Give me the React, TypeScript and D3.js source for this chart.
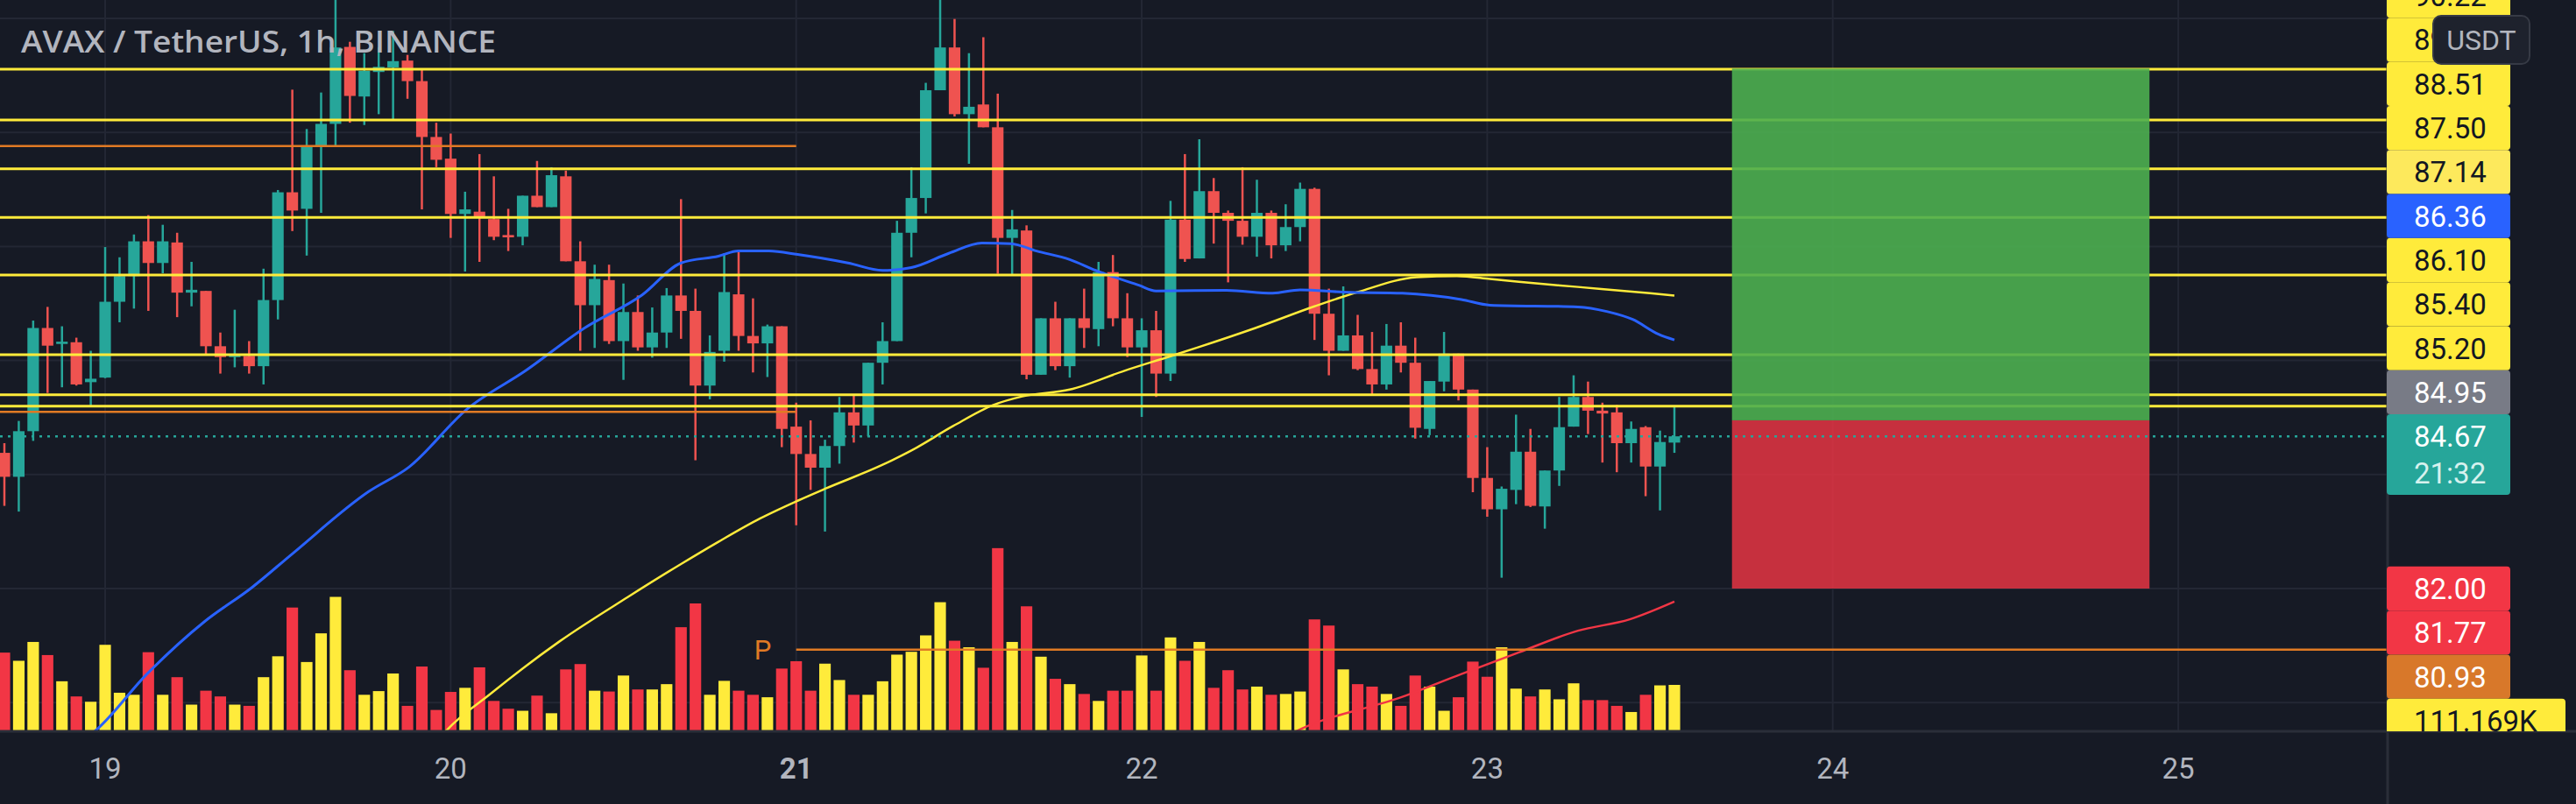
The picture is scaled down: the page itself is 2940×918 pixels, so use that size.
import * as d3 from "d3";

// hourly candles, AVAX / USDT
const opens = [84.38, 83.96, 84.76, 86.57, 86.29, 86.32, 85.62, 85.7, 87.03, 87.48, 88.09, 87.71, 88.07, 87.19, 87.22, 86.25, 86.06, 86.08, 85.9, 87.06, 88.95, 88.66, 89.77, 90.15, 91.5, 90.63, 91.06, 91.14, 91.26, 90.9, 89.92, 89.54, 88.57, 88.61, 88.48, 88.2, 88.17, 88.89, 88.69, 89.23, 87.74, 86.97, 87.41, 86.34, 86.85, 86.23, 86.49, 87.14, 86.87, 85.56, 86.17, 87.16, 86.43, 86.3, 86.6, 84.84, 84.36, 84.12, 84.5, 85.09, 84.86, 85.96, 86.34, 88.24, 88.85, 90.74, 91.49, 90.32, 90.49, 90.09, 88.15, 88.28, 85.75, 86.74, 85.9, 86.74, 86.55, 87.55, 86.74, 86.23, 86.53, 85.77, 88.47, 87.79, 88.97, 88.59, 88.45, 88.17, 88.59, 88.02, 88.34, 89.01, 86.82, 86.17, 86.44, 85.85, 85.58, 86.26, 85.96, 84.8, 85.63, 86.12, 85.49, 83.94, 83.39, 83.73, 84.4, 83.44, 84.07, 84.84, 85.36, 85.12, 85.09, 84.55, 84.83, 84.14, 84.56];
const highs = [84.55, 84.94, 86.7, 86.94, 86.6, 86.4, 86.17, 87.99, 87.81, 88.21, 88.55, 88.38, 88.24, 87.73, 87.22, 86.49, 86.89, 86.34, 87.61, 88.99, 90.75, 90.06, 90.7, 92.4, 91.59, 91.39, 91.49, 91.78, 91.36, 91.1, 90.17, 89.98, 88.96, 89.62, 89.23, 88.66, 88.89, 89.5, 89.39, 89.33, 88.09, 87.68, 87.68, 87.35, 87.14, 86.93, 87.27, 88.83, 87.26, 86.44, 87.88, 87.92, 87.09, 86.63, 86.6, 85.26, 84.95, 84.61, 85.36, 85.41, 85.96, 86.67, 88.45, 89.39, 90.87, 92.4, 91.99, 91.39, 91.67, 90.68, 88.64, 88.37, 86.74, 87.03, 86.74, 87.26, 87.73, 87.85, 87.18, 86.74, 86.87, 88.8, 89.62, 89.88, 89.2, 88.63, 89.39, 89.17, 88.63, 88.74, 89.12, 89.03, 87.26, 87.3, 86.8, 86.5, 86.64, 86.67, 86.4, 85.64, 86.5, 86.12, 85.49, 84.48, 83.79, 85.05, 84.8, 84.07, 85.36, 85.74, 85.63, 85.26, 85.22, 84.93, 84.85, 84.77, 85.2];
const lows = [83.45, 83.35, 84.59, 85.43, 85.53, 85.56, 85.2, 85.69, 86.67, 86.91, 86.87, 87.53, 86.76, 86.95, 86.09, 85.77, 85.88, 85.77, 85.58, 86.72, 88.27, 87.84, 88.59, 89.77, 90.17, 90.13, 90.32, 90.21, 90.59, 88.65, 89.39, 88.15, 87.56, 87.73, 88.11, 87.92, 88.02, 88.69, 88.69, 87.74, 86.17, 86.22, 86.29, 85.66, 86.17, 86.05, 86.22, 86.38, 84.25, 85.32, 85.98, 86.17, 85.79, 85.71, 84.48, 83.11, 83.73, 83.0, 84.19, 84.56, 84.67, 85.58, 86.34, 87.81, 88.58, 90.74, 90.28, 89.45, 90.09, 87.52, 87.5, 85.67, 85.75, 85.83, 85.7, 86.22, 86.25, 86.6, 86.06, 85.01, 85.36, 85.64, 87.73, 87.79, 88.05, 87.37, 88.03, 87.82, 87.79, 87.92, 88.09, 86.36, 85.74, 86.17, 85.83, 85.41, 85.49, 85.79, 84.63, 84.69, 85.46, 85.3, 83.69, 83.26, 82.19, 83.48, 83.43, 83.05, 83.8, 84.84, 84.71, 84.21, 84.04, 84.21, 83.62, 83.37, 84.38];
const closes = [83.96, 84.76, 86.57, 86.26, 86.33, 85.58, 85.68, 87.03, 87.48, 88.09, 87.71, 88.09, 87.19, 87.24, 86.25, 86.06, 86.09, 85.9, 87.06, 88.95, 88.63, 89.77, 90.15, 91.49, 90.64, 91.08, 91.15, 91.25, 90.9, 89.92, 89.52, 88.57, 88.65, 88.51, 88.17, 88.16, 88.89, 88.69, 89.25, 87.74, 86.97, 87.43, 86.34, 86.85, 86.23, 86.49, 87.14, 86.87, 85.56, 86.15, 87.2, 86.43, 86.3, 86.6, 84.8, 84.36, 84.12, 84.5, 85.09, 84.86, 85.96, 86.34, 88.24, 88.85, 90.74, 91.49, 90.32, 90.45, 90.09, 88.15, 88.3, 85.75, 86.74, 85.9, 86.74, 86.57, 87.55, 86.74, 86.23, 86.53, 85.77, 88.47, 87.78, 88.97, 88.59, 88.45, 88.17, 88.59, 88.02, 88.34, 89.01, 86.82, 86.17, 86.44, 85.85, 85.58, 86.26, 85.96, 84.82, 85.64, 86.12, 85.49, 83.94, 83.39, 83.75, 84.4, 83.45, 84.07, 84.83, 85.36, 85.12, 85.07, 84.55, 84.8, 84.14, 84.57, 84.67];
// volume in thousands
const volumes = [190, 170, 216, 184, 120, 83, 70, 209, 92, 87, 191, 87, 130, 63, 97, 83, 63, 60, 130, 181, 300, 167, 237, 326, 147, 87, 96, 139, 60, 156, 50, 94, 104, 154, 72, 53, 48, 85, 42, 149, 162, 97, 95, 134, 100, 100, 113, 252, 310, 87, 121, 97, 87, 81, 151, 169, 97, 163, 123, 87, 87, 120, 185, 192, 232, 313, 219, 203, 153, 445, 216, 303, 180, 126, 113, 89, 72, 97, 97, 183, 97, 227, 170, 216, 104, 147, 100, 107, 87, 89, 95, 271, 256, 149, 113, 107, 89, 60, 134, 107, 48, 81, 168, 131, 203, 102, 83, 100, 76, 115, 74, 74, 60, 45, 87, 110, 111.169];

// moving averages: [candle index, price]
const blueMa: [number, number][] = [[5.2, 79.3], [6.2, 79.48], [9.9, 80.5], [13.9, 81.42], [17.2, 82.02], [20, 82.61], [25.3, 83.7], [28.1, 84.13], [32.1, 85.14], [36.2, 85.82], [40.3, 86.57], [44.3, 87.15], [47, 87.71], [49.6, 87.83], [51, 87.92], [53.1, 87.92], [55.1, 87.86], [58.6, 87.71], [61, 87.58], [63, 87.63], [65.6, 87.88], [67.9, 88.06], [69.9, 88.05], [71.7, 87.92], [74, 87.77], [75.8, 87.58], [78.8, 87.32], [80, 87.22], [84.9, 87.23], [88.1, 87.18], [90, 87.24], [93, 87.2], [97.1, 87.18], [101.2, 87.07], [103.2, 86.97], [109.3, 86.94], [111.3, 86.86], [113.1, 86.72], [114.9, 86.46], [116, 86.36]];
const yellowMa: [number, number][] = [[30, 79.3], [30.6, 79.48], [33.8, 80.16], [38.6, 81.08], [43.3, 81.85], [47, 82.43], [49.6, 82.82], [52.5, 83.23], [55.1, 83.54], [57.1, 83.76], [61, 84.17], [63, 84.42], [65.9, 84.85], [68.7, 85.22], [70.7, 85.37], [74, 85.49], [77.8, 85.82], [80.8, 86.06], [82.9, 86.23], [86.9, 86.57], [91, 86.95], [94, 87.2], [98.1, 87.46], [100.9, 87.48], [103.2, 87.43], [105.2, 87.38], [109.3, 87.29], [114.3, 87.18], [116, 87.14]];
const redMa: [number, number][] = [[89, 79.4], [89.6, 79.48], [97.1, 80.1], [101.2, 80.5], [105.2, 80.88], [109.3, 81.26], [112.9, 81.46], [116, 81.77]];

const levelLines = [91.11, 90.22, 89.36, 88.51, 87.5, 86.1, 85.4, 85.2];
const orangeLines = [89.76, 85.1];
const pLevel = 80.93;
const position = { from: 120, to: 149, target: 91.12, entry: 84.95, stop: 82.0 };
const countdown = "21:32";
const title = "AVAX / TetherUS, 1h, BINANCE";

const W = 2940;
const H = 918;
const PANE_R = 2724;
const PANE_B = 835;
const LH = 50.3;
const t0 = Date.UTC(2021, 11, 18, 17);
const hour = 3600 * 1000;
const at = (i: number) => new Date(t0 + i * hour);

const UP = "#26a69a";
const DOWN = "#ef5350";
const VOL_UP = "#ffeb3b";
const VOL_DOWN = "#f23645";
const FONT = "Roboto, 'Noto Sans', sans-serif";

export default function App() {
  const n = closes.length;
  const x = d3.scaleUtc().domain([at(0), at(n - 1)]).range([5, 1911]);
  const y = d3.scaleLinear().domain([82, 92]).range([672, 21]);
  const vy = d3.scaleLinear().domain([0, 111.169]).range([834, 782]);
  const step = x(at(1)) - x(at(0));
  const bw = step * 0.8;

  const maLine = d3
    .line<[number, number]>()
    .x((d) => x(at(d[0])))
    .y((d) => y(d[1]))
    .curve(d3.curveMonotoneX);

  const days = x.ticks(d3.utcDay.every(1)!).concat(d3.utcDay.range(at(n), at(160)));
  const dayTicks = Array.from(new Set(days.map((d) => +d))).map((d) => new Date(d));
  const priceGrid = d3.range(80, 93, 2);

  const last = n - 1;
  const curY = y(closes[last]);

  // right axis labels, stacked like TradingView does
  type Lab = { v: number; text: string; bg: string; fg: string; wide?: boolean; top?: number };
  const labs: Lab[] = [
    ...levelLines.map((p) => ({ v: y(p), text: p.toFixed(2), bg: "#ffeb3b", fg: "#131722" })),
    { v: y(yellowMa[yellowMa.length - 1][1]), text: yellowMa[yellowMa.length - 1][1].toFixed(2), bg: "#fde95c", fg: "#131722" },
    { v: y(blueMa[blueMa.length - 1][1]), text: blueMa[blueMa.length - 1][1].toFixed(2), bg: "#2962ff", fg: "#ffffff" },
    { v: y(position.entry), text: position.entry.toFixed(2), bg: "#787b86", fg: "#ffffff" },
    { v: y(position.stop), text: position.stop.toFixed(2), bg: "#f23645", fg: "#ffffff" },
    { v: y(redMa[redMa.length - 1][1]), text: redMa[redMa.length - 1][1].toFixed(2), bg: "#f23645", fg: "#ffffff" },
    { v: y(pLevel), text: pLevel.toFixed(2), bg: "#d8782a", fg: "#ffffff" },
    { v: vy(volumes[last]), text: `${volumes[last].toFixed(3)}K`, bg: "#ffeb3b", fg: "#131722", wide: true },
  ];
  const curTop = curY - LH / 2;
  const curH = 92;
  let edge = curTop;
  labs
    .filter((l) => l.v < curY)
    .sort((a, b) => b.v - a.v)
    .forEach((l) => {
      l.top = Math.min(l.v - LH / 2, edge - LH);
      edge = l.top;
    });
  edge = curTop + curH;
  labs
    .filter((l) => l.v >= curY)
    .sort((a, b) => a.v - b.v)
    .forEach((l) => {
      l.top = Math.max(l.v - LH / 2, edge);
      edge = l.top + LH;
    });

  const bx0 = x(at(position.from));
  const bx1 = x(at(position.to));

  return (
    <svg
      width={W}
      height={H}
      style={{ position: "absolute", left: 0, top: 0, display: "block" }}
      fontFamily={FONT}
    >
      <defs>
        <clipPath id="pane">
          <rect x={0} y={0} width={PANE_R} height={PANE_B} />
        </clipPath>
        <clipPath id="axis">
          <rect x={PANE_R} y={0} width={W - PANE_R} height={PANE_B} />
        </clipPath>
      </defs>
      <rect width={W} height={H} fill="#161a25" />

      <g clipPath="url(#pane)">
        {priceGrid.map((p) => (
          <line key={p} x1={0} x2={PANE_R} y1={y(p)} y2={y(p)} stroke="#232734" strokeWidth={2} />
        ))}
        {dayTicks.map((d) => (
          <line key={+d} x1={x(d)} x2={x(d)} y1={0} y2={PANE_B} stroke="#232734" strokeWidth={2} />
        ))}

        {volumes.map((v, i) => (
          <rect
            key={i}
            x={x(at(i)) - bw / 2}
            width={bw}
            y={vy(v)}
            height={vy(0) - vy(v)}
            fill={closes[i] >= opens[i] ? VOL_UP : VOL_DOWN}
          />
        ))}

        {closes.map((c, i) => {
          const o = opens[i];
          const col = c >= o ? UP : DOWN;
          const cx = x(at(i));
          const top = y(Math.max(o, c));
          const h = Math.max(2, Math.abs(y(o) - y(c)));
          return (
            <g key={i}>
              <line x1={cx} x2={cx} y1={y(highs[i])} y2={y(lows[i])} stroke={col} strokeWidth={2.5} />
              <rect x={cx - bw / 2} width={bw} y={top} height={h} fill={col} />
            </g>
          );
        })}

        <path d={maLine(yellowMa)!} fill="none" stroke="#ffeb3b" strokeWidth={2.5} />
        <path d={maLine(blueMa)!} fill="none" stroke="#2962ff" strokeWidth={3} />
        <path d={maLine(redMa)!} fill="none" stroke="#f23645" strokeWidth={2.5} />

        {orangeLines.map((p) => (
          <line key={p} x1={0} x2={x(at(55))} y1={y(p)} y2={y(p)} stroke="#e07a24" strokeWidth={2.5} />
        ))}
        {levelLines.map((p) => (
          <line key={p} x1={0} x2={PANE_R} y1={y(p)} y2={y(p)} stroke="#ffeb3b" strokeWidth={3} />
        ))}
        <line x1={x(at(55))} x2={PANE_R} y1={y(pLevel)} y2={y(pLevel)} stroke="#e07a24" strokeWidth={2.5} />
        <text x={x(at(55)) - 48} y={y(pLevel) + 11} fill="#e07a24" fontSize={31}>
          P
        </text>

        <rect x={bx0} width={bx1 - bx0} y={y(position.target)} height={y(position.entry) - y(position.target)} fill="rgba(76,175,80,0.9)" />
        <rect x={bx0} width={bx1 - bx0} y={y(position.entry)} height={y(position.stop) - y(position.entry)} fill="rgba(242,54,69,0.8)" />

        <line x1={0} x2={PANE_R} y1={curY} y2={curY} stroke={UP} strokeWidth={2.5} strokeDasharray="3 6" />
      </g>

      <text x={24} y={60} fill="#b2b5be" fontSize={35} fontWeight={600} fontFamily="'Open Sans', sans-serif" textLength={542} lengthAdjust="spacingAndGlyphs">
        {title}
      </text>

      <line x1={0} x2={W} y1={PANE_B} y2={PANE_B} stroke="#2a2e39" strokeWidth={3} />
      <line x1={PANE_R + 1} x2={PANE_R + 1} y1={0} y2={H} stroke="#2a2e39" strokeWidth={3} />

      <g clipPath="url(#axis)">
        {labs.map((l, i) => (
          <g key={i}>
            <rect x={PANE_R} y={l.top} width={l.wide ? 204 : 141} height={LH} rx={4} fill={l.bg} />
            <text x={2755} y={(l.top ?? 0) + LH / 2 + 12} fill={l.fg} fontSize={33}>
              {l.text}
            </text>
          </g>
        ))}
        <rect x={PANE_R} y={curTop} width={141} height={curH} rx={4} fill={UP} />
        <text x={2755} y={curY + 12} fill="#ffffff" fontSize={33}>
          {closes[last].toFixed(2)}
        </text>
        <text x={2755} y={curY + 54} fill="#d6f1ee" fontSize={33}>
          {countdown}
        </text>
      </g>

      <rect x={2777} y={18} width={110} height={55} rx={9} fill="#1e222d" stroke="#363a45" strokeWidth={2} />
      <text x={2832} y={57} textAnchor="middle" fill="#b2b5be" fontSize={32}>
        USDT
      </text>

      {dayTicks.map((d) => (
        <text
          key={+d}
          x={x(d)}
          y={889}
          textAnchor="middle"
          fill="#b2b5be"
          fontSize={33}
          fontWeight={d.getUTCDate() === 21 ? 700 : 400}
        >
          {d.getUTCDate()}
        </text>
      ))}
    </svg>
  );
}
